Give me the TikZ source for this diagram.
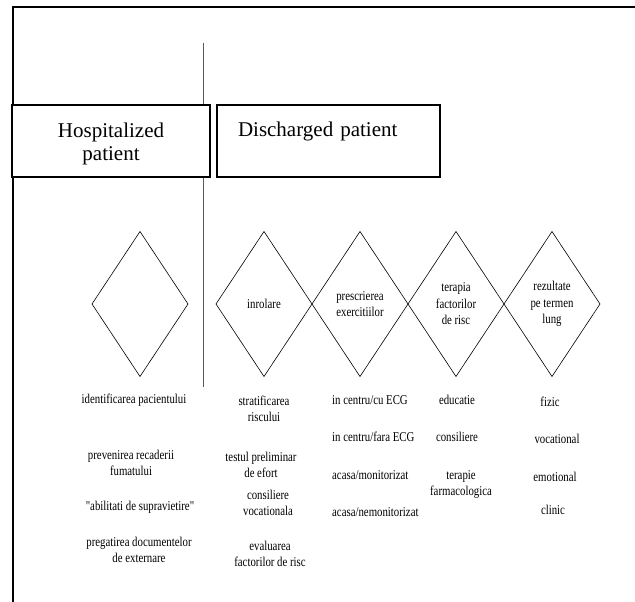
\documentclass[tikz,border=0pt]{standalone}
\usepackage{fontspec}
\setmainfont{Liberation Serif}
\newfontfamily\narrowfont{Liberation Serif}[FakeStretch=0.8]
\usetikzlibrary{shapes.geometric, positioning}

\begin{document}
\begin{tikzpicture}[x=1pt, y=-1pt, node distance=0pt,
    phase/.style = {draw, line width=1.2pt, fill=white, inner sep=0pt, minimum height=72pt, font=\fontsize{21}{23}\selectfont},
    step diamond/.style = {draw, diamond, line width=0.6pt, inner sep=0pt, outer sep=0pt, minimum width=96pt, minimum height=145pt, align=center, font=\narrowfont\fontsize{13.5}{16.5}\selectfont},
    lbl/.style = {align=center, inner sep=0pt, font=\narrowfont\fontsize{13.5}{16}\selectfont}]

    \useasboundingbox (0,0) rectangle (635,602);

    \draw[line width=2pt] (635,7) -- (13,7) -- (13,602);

    \coordinate (divtop) at (203,43);
    \coordinate (divbot) at (203,387);
    \draw[gray!70!black, line width=0.8pt] (divtop) -- (divbot);

    \node[phase, minimum width=198pt, align=center] (H) at (111,141) {\rule{0pt}{20pt}Hospitalized\\patient};
    \node[phase, minimum width=223pt, text width=181pt, align=left] (D) at (328.5,141) {\rule{0pt}{20pt}Discharged patient\\\strut};

    \node[step diamond] (d1) at (140,304) {};
    \node[step diamond] (d2) at (264,304) {inrolare};
    \node[step diamond] (d3) [right=of d2] {prescrierea\\exercitiilor};
    \node[step diamond] (d4) [right=of d3] {terapia\\factorilor\\de risc};
    \node[step diamond] (d5) [right=of d4] {rezultate\\pe termen\\lung};

    \node[lbl] (i1) at (134,400) {identificarea pacientului};
    \node[lbl] (i2) at (131,463) {prevenirea recaderii\\fumatului};
    \node[lbl] (i3) at (140,507) {"abilitati de supravietire"};
    \node[lbl] (i4) at (139,550) {pregatirea documentelor\\de externare};

    \node[lbl] (s1) at (264,409) {stratificarea\\riscului};
    \node[lbl] (s2) at (261,465) {testul preliminar\\de efort};
    \node[lbl] (s3) at (268,503) {consiliere\\vocationala};
    \node[lbl] (s4) at (270,554) {evaluarea\\factorilor de risc};

    \node[lbl, anchor=west] (e1) at (332,400) {in centru/cu ECG};
    \node[lbl, anchor=west] (e2) at (332,437) {in centru/fara ECG};
    \node[lbl, anchor=west] (e3) at (332,475) {acasa/monitorizat};
    \node[lbl, anchor=west] (e4) at (332,512) {acasa/nemonitorizat};

    \node[lbl] (t1) at (457,400) {educatie};
    \node[lbl] (t2) at (457,437) {consiliere};
    \node[lbl] (t3) at (461,484) {terapie\\farmacologica};

    \node[lbl] (r1) at (550,402) {fizic};
    \node[lbl] (r2) at (557,439) {vocational};
    \node[lbl] (r3) at (555,477) {emotional};
    \node[lbl] (r4) at (553,510) {clinic};
\end{tikzpicture}
\end{document}
